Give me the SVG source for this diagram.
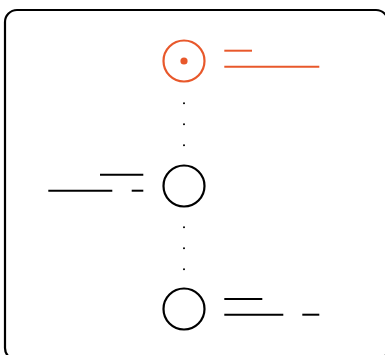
<svg xmlns="http://www.w3.org/2000/svg" width="385" height="355" viewBox="0 0 385 355">
  <style>
    .frame { fill: none; stroke: #000; stroke-width: 2.2; }
    .node { fill: none; stroke: #000; stroke-width: 2.2; }
    .node-active { fill: none; stroke: #E8582B; stroke-width: 2.2; }
    .bar { stroke: #000; stroke-width: 2; fill: none; }
    .bar-active { stroke: #E8582B; stroke-width: 2; fill: none; }
    .dots { stroke: #000; stroke-width: 2; stroke-linecap: round; stroke-dasharray: 0 21; fill: none; }
  </style>
  <rect class="frame" x="5" y="10" width="383" height="350" rx="12" ry="12"/>
  <g id="connectors">
    <line class="dots" x1="184" y1="103.3" x2="184" y2="145.5"/>
    <line class="dots" x1="184" y1="227.3" x2="184" y2="269.5"/>
  </g>
  <g id="node-1">
    <circle class="node-active" cx="184" cy="61" r="20.5"/>
    <circle cx="184" cy="61" r="3.6" fill="#E8582B"/>
    <line class="bar-active" x1="224.3" y1="50.7" x2="252" y2="50.7"/>
    <line class="bar-active" x1="224.3" y1="66.7" x2="319.3" y2="66.7"/>
  </g>
  <g id="node-2">
    <circle class="node" cx="184" cy="186" r="20.5"/>
    <line class="bar" x1="100" y1="174.7" x2="143.3" y2="174.7"/>
    <line class="bar" x1="48.3" y1="190.7" x2="112.3" y2="190.7"/>
    <line class="bar" x1="131.7" y1="190.7" x2="143.3" y2="190.7"/>
  </g>
  <g id="node-3">
    <circle class="node" cx="184" cy="309" r="20.5"/>
    <line class="bar" x1="224.3" y1="299" x2="262.3" y2="299"/>
    <line class="bar" x1="224.3" y1="314.7" x2="283.3" y2="314.7"/>
    <line class="bar" x1="302.3" y1="314.7" x2="319.3" y2="314.7"/>
  </g>
</svg>
